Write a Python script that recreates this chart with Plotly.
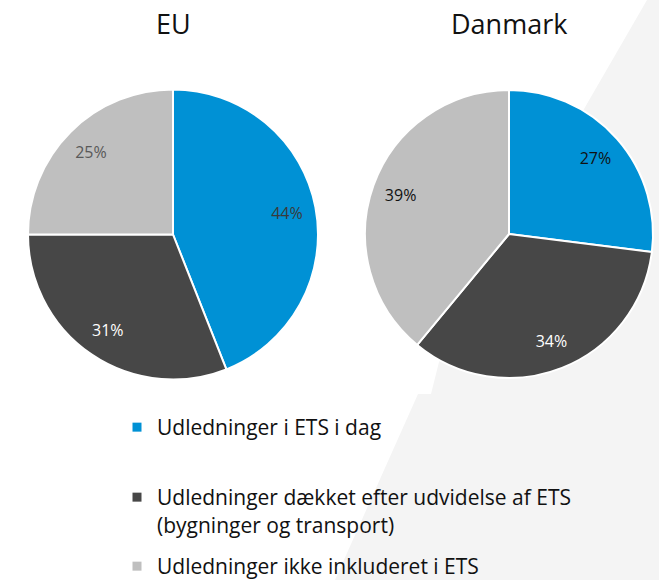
import plotly.graph_objects as go

# ---- data ----
categories = [
    "Udledninger i ETS i dag",
    "Udledninger dækket efter udvidelse af ETS<br>(bygninger og transport)",
    "Udledninger ikke inkluderet i ETS",
]
eu_values = [44, 31, 25]
dk_values = [27, 34, 39]
titles = ["EU", "Danmark"]

# ---- style ----
colors = ["#0091D5", "#474747", "#BFBFBF"]
eu_text_colors = ["#3A3A3A", "#FFFFFF", "#595959"]
dk_text_colors = ["#111111", "#FFFFFF", "#111111"]
FONT = "Open Sans"
W, H = 659, 580

eu_dom = dict(x=[28 / W, 318 / W], y=[1 - 379.5 / H, 1 - 89.5 / H])
dk_dom = dict(x=[365 / W, 653 / W], y=[1 - 378 / H, 1 - 90 / H])

fig = go.Figure()

for vals, dom, tcol, name in [
    (eu_values, eu_dom, eu_text_colors, titles[0]),
    (dk_values, dk_dom, dk_text_colors, titles[1]),
]:
    # coloured slices
    fig.add_trace(go.Pie(
        labels=categories, values=vals, name=name, domain=dom,
        sort=False, direction="clockwise", rotation=0,
        marker=dict(colors=colors, line=dict(color="white", width=2)),
        textinfo="none", hoverinfo="label+percent", showlegend=False,
    ))
    # transparent ring that carries the percentage labels (places them at ~0.8 r)
    fig.add_trace(go.Pie(
        labels=categories, values=vals, name=name, domain=dom, hole=0.6,
        sort=False, direction="clockwise", rotation=0,
        marker=dict(colors=["rgba(0,0,0,0)"] * 3, line=dict(width=0)),
        textinfo="percent", texttemplate="%{percent:.0%}",
        textposition="inside", insidetextorientation="horizontal",
        textfont=dict(family=FONT, size=16, color=tcol),
        hoverinfo="skip", showlegend=False,
    ))

# legend entries (one legend per category so the spacing can follow the original)
legend_names = ["legend", "legend2", "legend3"]
legend_tops = [407, 477, 546]
for cat, col, lg in zip(categories, colors, legend_names):
    fig.add_trace(go.Scatter(
        x=[None], y=[None], mode="markers", name=cat, legend=lg,
        marker=dict(symbol="square", size=9, color=col),
        showlegend=True, hoverinfo="skip",
    ))

# titles
for t, dom in zip(titles, [eu_dom, dk_dom]):
    fig.add_annotation(
        text=t, x=(dom["x"][0] + dom["x"][1]) / 2, y=1 - 23 / H,
        xref="paper", yref="paper", xanchor="center", yanchor="middle",
        showarrow=False, font=dict(family=FONT, size=27, color="#111111"),
    )

# light grey diagonal background band
pts = [(647, 0), (W, 0), (W, H), (335, H), (418, 394), (431, 394), (440, 358)]
path = "M " + " L ".join(f"{x / W:.4f},{1 - y / H:.4f}" for x, y in pts) + " Z"
fig.add_shape(type="path", path=path, xref="paper", yref="paper",
              fillcolor="#F4F4F4", line=dict(width=0), layer="below")

legend_style = dict(
    x=117 / W, xanchor="left", yanchor="top", valign="top",
    bgcolor="rgba(0,0,0,0)",
    font=dict(family=FONT, size=21, color="#111111"),
)
fig.update_layout(
    width=W, height=H,
    margin=dict(l=0, r=0, t=0, b=0, autoexpand=False),
    paper_bgcolor="white", plot_bgcolor="rgba(0,0,0,0)",
    showlegend=True,
    xaxis=dict(visible=False), yaxis=dict(visible=False),
    font=dict(family=FONT),
    **{lg: dict(legend_style, y=1 - top / H) for lg, top in zip(legend_names, legend_tops)},
)

fig.write_html(
    "out.html",
    config={"displayModeBar": False},
    post_script="document.body.style.margin='0px';",
)
